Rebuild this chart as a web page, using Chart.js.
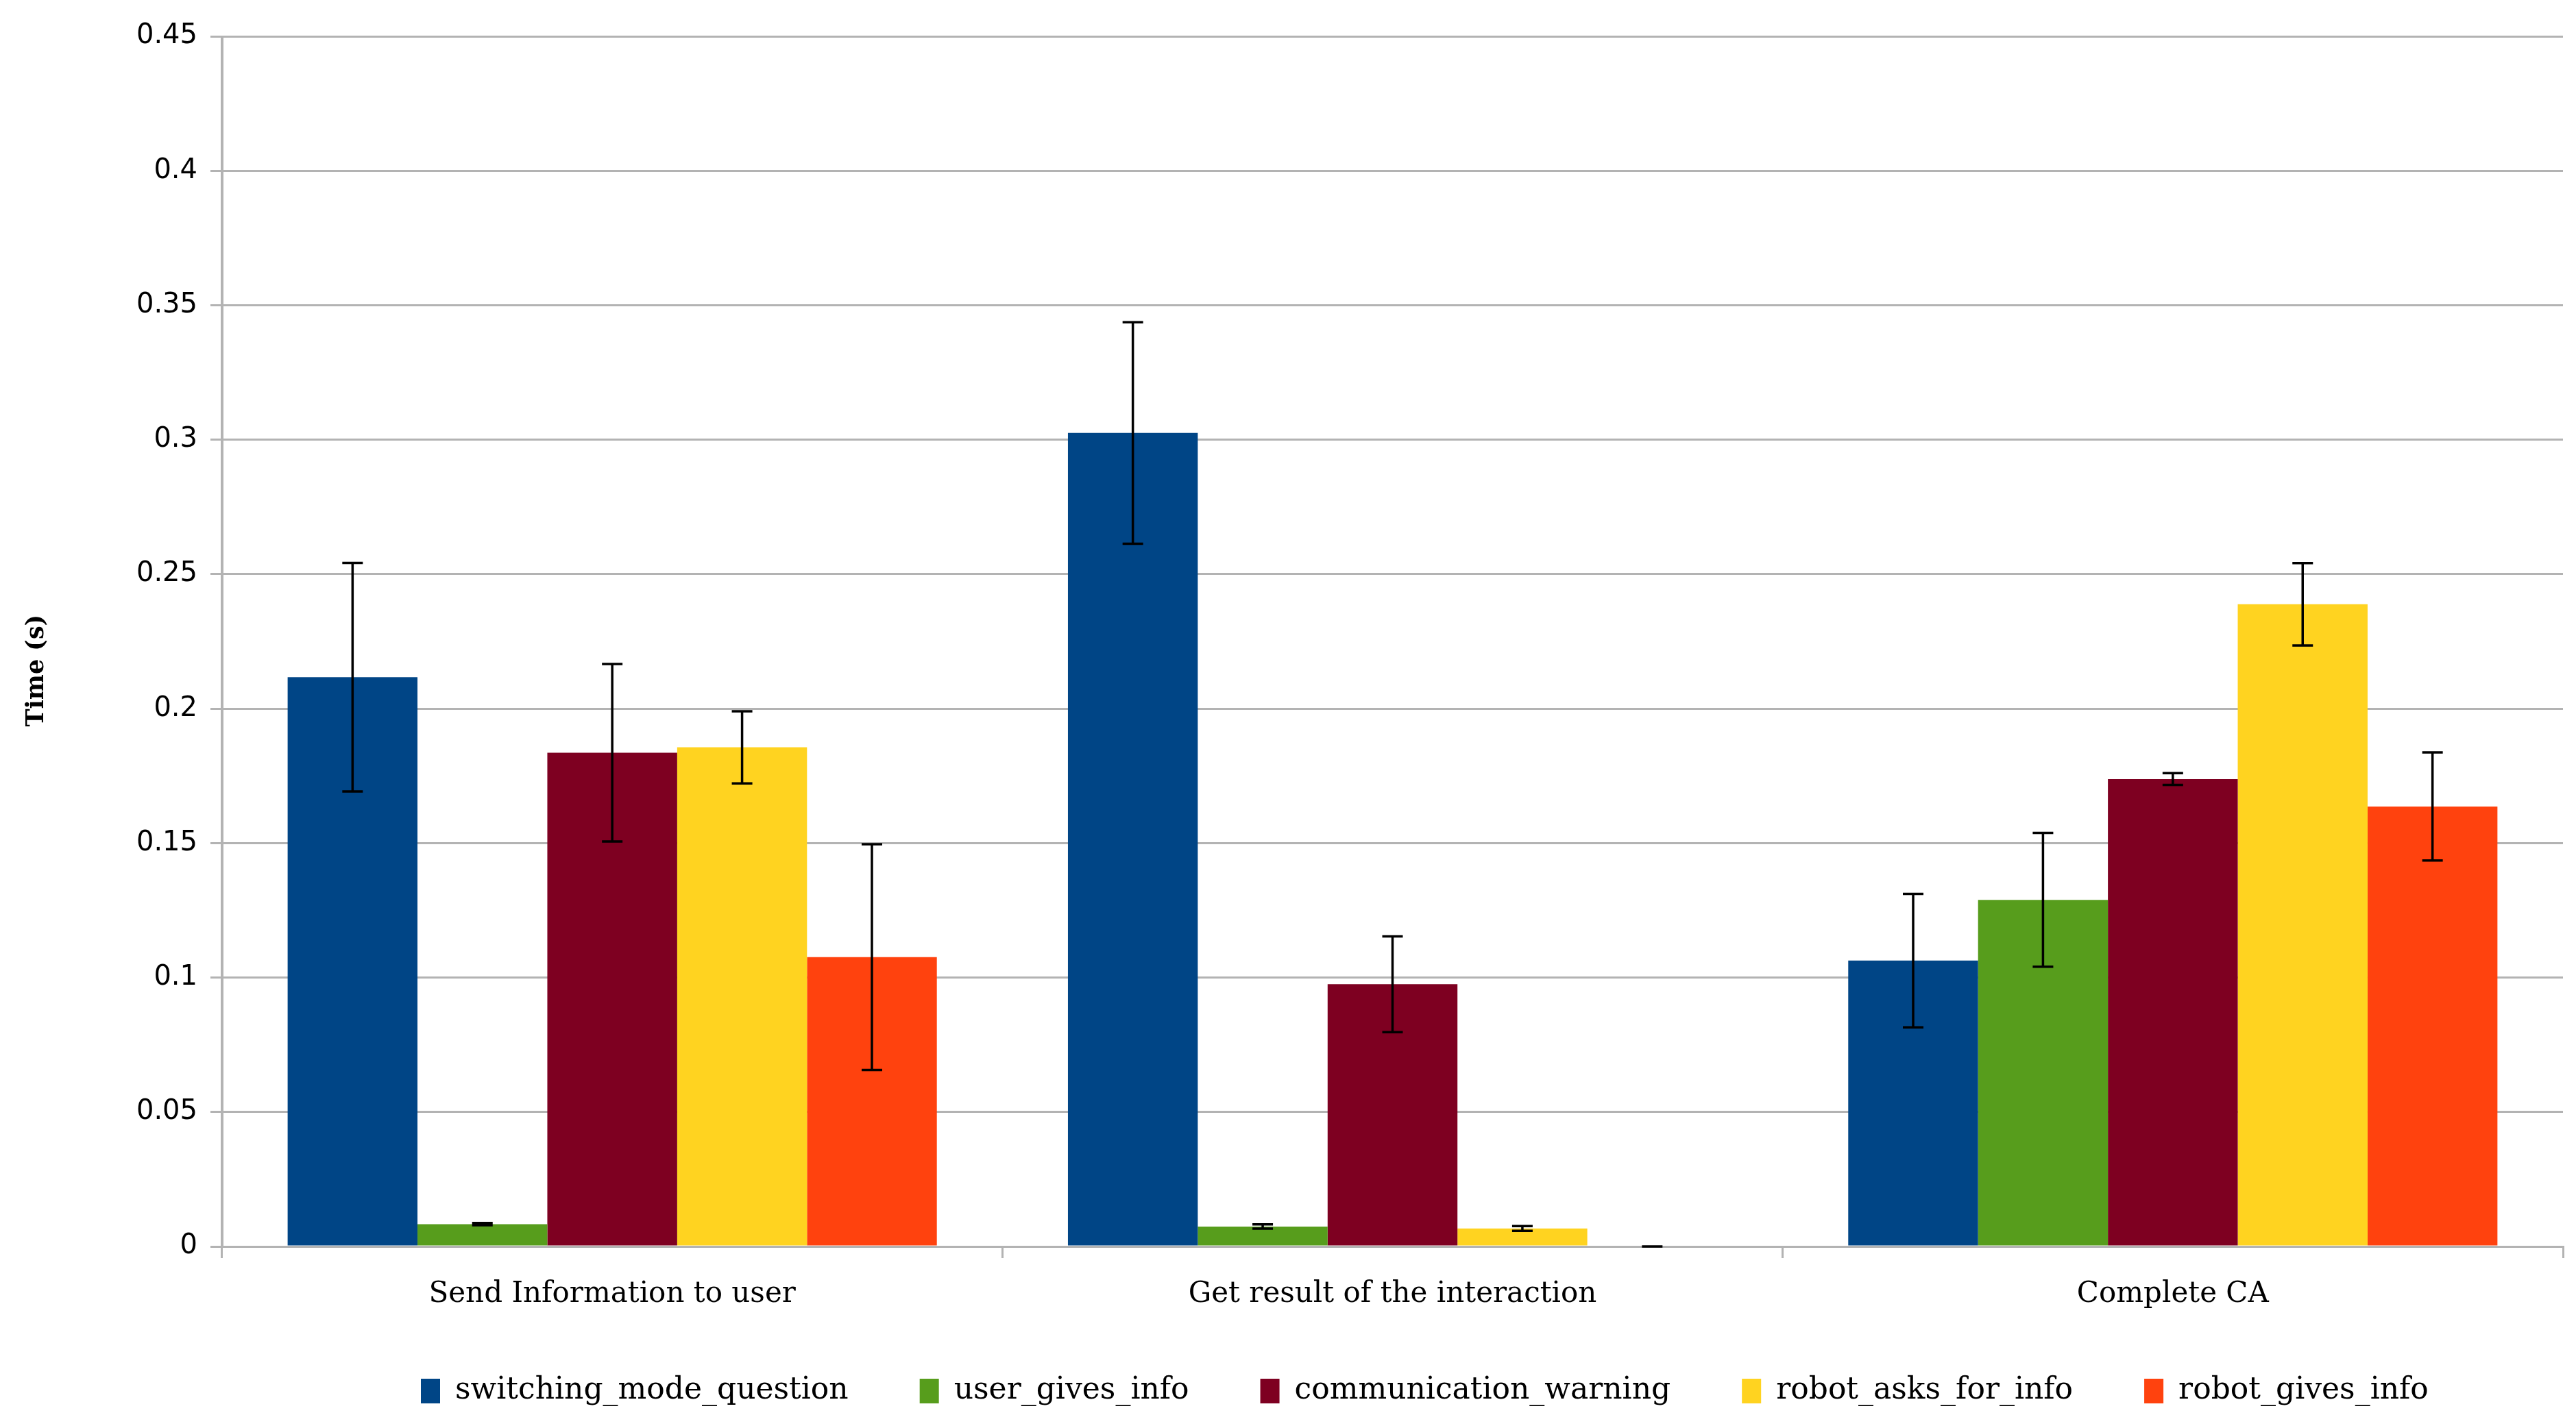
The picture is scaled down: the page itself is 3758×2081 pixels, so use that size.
<!DOCTYPE html>
<html>
<head>
<meta charset="utf-8">
<title>Time (s)</title>
<script src="https://cdn.jsdelivr.net/npm/chart.js@4.4.1/dist/chart.umd.min.js"></script>
<style>
  html, body { margin: 0; padding: 0; background: #fff; }
  #wrap { width: 3758px; height: 2081px; }
</style>
</head>
<body>
<div id="wrap"><canvas id="timeChart" width="3758" height="2081"></canvas></div>
<script>
const categories = ['Send Information to user', 'Get result of the interaction', 'Complete CA'];
const seriesNames = ['switching_mode_question', 'user_gives_info', 'communication_warning', 'robot_asks_for_info', 'robot_gives_info'];
const seriesColors = ['#004586', '#579d1c', '#7e0021', '#ffd320', '#ff420e'];

// mean times (s)
const switchingModeQuestion = [0.2117, 0.3025, 0.1063];
const userGivesInfo = [0.0083, 0.0074, 0.1289];
const communicationWarning = [0.1836, 0.0975, 0.1738];
const robotAsksForInfo = [0.1856, 0.0067, 0.2388];
const robotGivesInfo = [0.1076, 0, 0.1636];

// error bar half-lengths (s)
const switchingModeQuestionErr = [0.0425, 0.0412, 0.0248];
const userGivesInfoErr = [0.0004, 0.0008, 0.0249];
const communicationWarningErr = [0.0330, 0.0178, 0.0022];
const robotAsksForInfoErr = [0.0134, 0.0009, 0.0153];
const robotGivesInfoErr = [0.0420, 0, 0.0201];

const yMin = 0, yMax = 0.45, yStep = 0.05;

const values = [switchingModeQuestion, userGivesInfo, communicationWarning, robotAsksForInfo, robotGivesInfo];
const errors = [switchingModeQuestionErr, userGivesInfoErr, communicationWarningErr, robotAsksForInfoErr, robotGivesInfoErr];

const gridGray = '#b3b3b3';
const serif = 'DejaVu Serif';

// black whisker with caps at each bar
const errorBars = {
    id: 'errorBars',
    afterDatasetsDraw(chart) {
        const ctx = chart.ctx;
        const y = chart.scales.y;
        ctx.save();
        ctx.strokeStyle = '#000';
        ctx.lineWidth = 3.5;
        chart.data.datasets.forEach((ds, i) => {
            const meta = chart.getDatasetMeta(i);
            meta.data.forEach((bar, j) => {
                const v = ds.data[j], e = ds.errors[j];
                const top = y.getPixelForValue(v + e);
                const bot = y.getPixelForValue(v - e);
                const cap = 15;
                ctx.beginPath();
                ctx.moveTo(bar.x, top); ctx.lineTo(bar.x, bot);
                ctx.moveTo(bar.x - cap, top); ctx.lineTo(bar.x + cap, top);
                ctx.moveTo(bar.x - cap, bot); ctx.lineTo(bar.x + cap, bot);
                ctx.stroke();
            });
        });
        ctx.restore();
    }
};

// legend sits a bit right of the canvas centre in the original
const legendPlace = {
    id: 'legendPlace',
    afterLayout(chart) {
        const lg = chart.legend;
        if (!lg || !lg.lineWidths) return;
        const pad = lg.options.labels.padding;
        const firstX = (lg.left + pad + lg.right - lg.lineWidths[0]) / 2;
        const dx = 614 - firstX;
        lg.left += dx;
        lg.right += dx;
        lg.top = 2030 - pad - 22;
        lg.bottom = 2081;
    }
};

const ctx = document.getElementById('timeChart').getContext('2d');
new Chart(ctx, {
    type: 'bar',
    data: {
        labels: categories,
        datasets: seriesNames.map((name, i) => ({
            label: name,
            data: values[i],
            errors: errors[i],
            backgroundColor: seriesColors[i],
            borderWidth: 0,
            categoryPercentage: 0.832,
            barPercentage: 1.0
        }))
    },
    options: {
        responsive: false,
        animation: false,
        devicePixelRatio: 1,
        layout: { padding: { left: 0, right: 19, top: 53, bottom: 42 } },
        plugins: {
            tooltip: { enabled: false },
            legend: {
                position: 'bottom',
                maxHeight: 100,
                labels: {
                    font: { family: serif, size: 44 },
                    color: '#000',
                    boxWidth: 28,
                    boxHeight: 36,
                    padding: 104
                }
            }
        },
        scales: {
            x: {
                afterFit(scale) { scale.height = 120; },
                grid: {
                    offset: true,
                    color: (c) => (c.index === 0 || c.index === categories.length) ? gridGray : 'rgba(0,0,0,0)',
                    tickColor: gridGray,
                    tickLength: 17,
                    lineWidth: 3
                },
                border: { display: true, color: gridGray, width: 3 },
                ticks: {
                    font: { family: serif, size: 42 },
                    color: '#000',
                    padding: 28,
                    maxRotation: 0
                }
            },
            y: {
                min: yMin,
                max: yMax,
                afterFit(scale) { scale.width = 324; },
                grid: { color: gridGray, lineWidth: 3, tickLength: 17 },
                border: { display: true, color: gridGray, width: 3 },
                ticks: {
                    stepSize: yStep,
                    font: { family: 'DejaVu Sans', size: 40 },
                    color: '#000',
                    padding: 19,
                    callback: (v) => String(parseFloat(v.toFixed(2)))
                },
                title: {
                    display: true,
                    // trailing spaces nudge the rotated title a little below centre, as in the original
                    text: 'Time (s)       ',
                    font: { family: serif, size: 35, weight: 'bold' },
                    color: '#000',
                    padding: { top: 33, bottom: 0 }
                }
            }
        }
    },
    plugins: [errorBars, legendPlace]
});
</script>
</body>
</html>
